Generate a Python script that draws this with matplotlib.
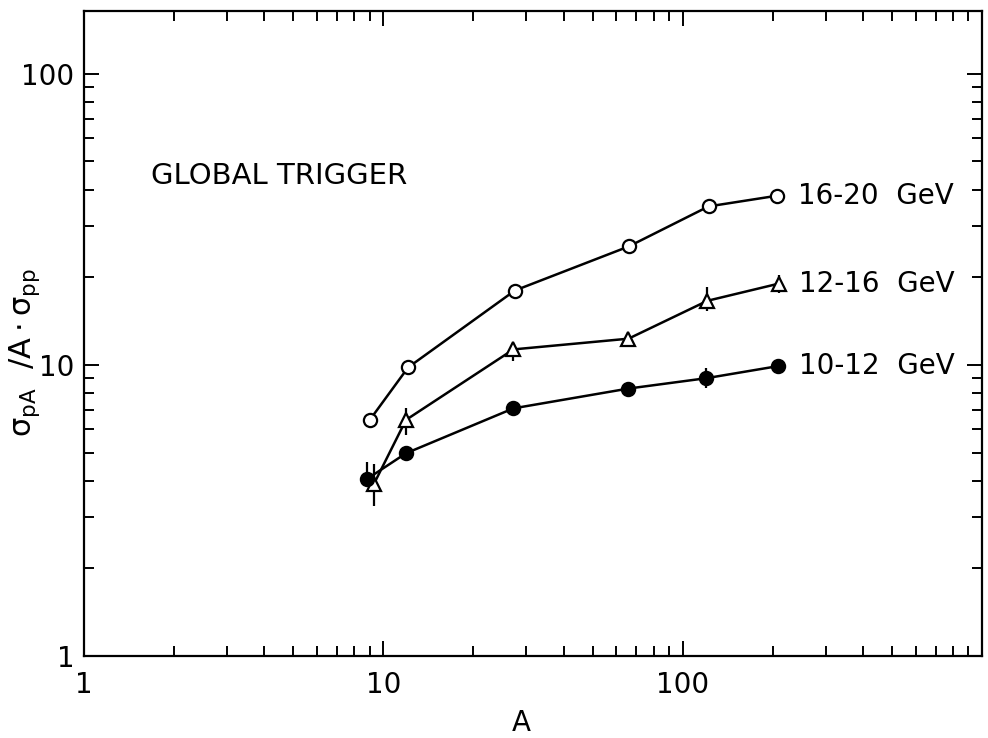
import matplotlib
matplotlib.use("Agg")
import matplotlib.pyplot as plt
from matplotlib.ticker import LogLocator, NullFormatter

plt.rcParams["font.family"] = ["DejaVu Sans"]
plt.rcParams["mathtext.default"] = "regular"

# mass number A and sigma_pA / (A * sigma_pp) for each energy bin
A_16_20 = [9.0, 12.1, 27.5, 66, 122, 207]
ratio_16_20 = [6.46, 9.8, 18.0, 25.5, 35.0, 38.1]

A_12_16 = [9.3, 11.9, 27.2, 65.9, 121, 209]
ratio_12_16 = [3.90, 6.47, 11.3, 12.3, 16.6, 19.0]
low_12_16 = [3.27, 5.74, 10.3, 11.6, 15.3, 17.7]
high_12_16 = [4.57, 7.12, 11.9, 12.7, 18.5, 20.4]

A_10_12 = [8.8, 11.9, 27.2, 65.8, 120, 208]
ratio_10_12 = [4.05, 4.97, 7.09, 8.29, 9.0, 9.9]
low_10_12 = [3.80, 4.70, 7.09, 7.9, 8.3, 9.9]
high_10_12 = [4.64, 5.26, 7.09, 8.7, 9.74, 9.9]

series_labels = ["16-20  GeV", "12-16  GeV", "10-12  GeV"]
x_ticks = [1, 10, 100, 1000]
x_tick_labels = ["1", "10", "100", ""]
y_ticks = [1, 10, 100]
y_tick_labels = ["1", "10", "100"]


def _yerr(values, low, high):
    return [[v - lo for v, lo in zip(values, low)], [hi - v for v, hi in zip(values, high)]]


fig = plt.figure(figsize=(9.88, 7.38), dpi=100)
ax = fig.add_axes([0.085, 0.111, 0.909, 0.874])
ax.set_xscale("log")
ax.set_yscale("log")
ax.set_xlim(1, 1000)
ax.set_ylim(1, 164)

line_kw = dict(color="black", linewidth=1.8, markeredgewidth=1.6, zorder=3)
ax.plot(A_16_20, ratio_16_20, marker="o", markersize=9.5, markerfacecolor="white", **line_kw)
ax.errorbar(A_12_16, ratio_12_16, yerr=_yerr(ratio_12_16, low_12_16, high_12_16),
            marker="^", markersize=9.5, markerfacecolor="white", elinewidth=1.6, capsize=0, **line_kw)
ax.errorbar(A_10_12, ratio_10_12, yerr=_yerr(ratio_10_12, low_10_12, high_10_12),
            marker="o", markersize=9.5, markerfacecolor="black", elinewidth=1.6, capsize=0, **line_kw)

for xs, ys, label in zip([A_16_20, A_12_16, A_10_12], [ratio_16_20, ratio_12_16, ratio_10_12], series_labels):
    ax.annotate(label, (xs[-1], ys[-1]), xytext=(15, 0), textcoords="offset points",
                ha="left", va="center", fontsize=20)

ax.text(0.075, 0.745, "GLOBAL TRIGGER", transform=ax.transAxes, ha="left", va="center", fontsize=21)

ax.set_xticks(x_ticks, x_tick_labels)
ax.set_yticks(y_ticks, y_tick_labels)
ax.xaxis.set_minor_locator(LogLocator(base=10, subs=range(2, 10)))
ax.yaxis.set_minor_locator(LogLocator(base=10, subs=range(2, 10)))
ax.xaxis.set_minor_formatter(NullFormatter())
ax.yaxis.set_minor_formatter(NullFormatter())
ax.tick_params(which="both", direction="in", top=True, right=True, width=1.4, labelsize=20)
ax.tick_params(which="major", length=11)
ax.tick_params(which="minor", length=7)
ax.tick_params(axis="x", which="major", pad=11)
ax.tick_params(axis="y", which="major", pad=7)
for spine in ax.spines.values():
    spine.set_linewidth(1.6)

ax.set_xlabel("A", fontsize=20)
ax.xaxis.set_label_coords(0.487, -0.082)
ax.set_ylabel(r"$\sigma_{pA}\ \ /A\cdot\sigma_{pp}$", fontsize=22, va="center")
ax.yaxis.set_label_coords(-0.066, 0.471)

fig.savefig("out.png", dpi=100)
